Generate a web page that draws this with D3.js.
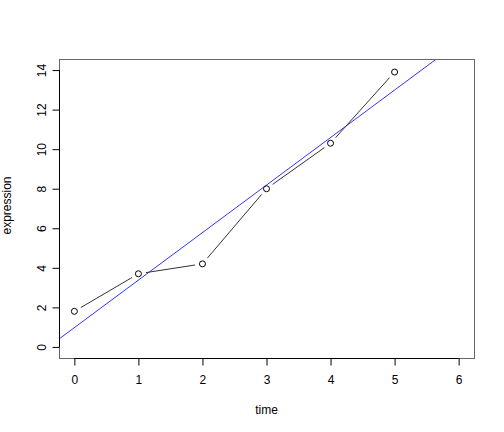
<!DOCTYPE html>
<html>
<head>
<meta charset="utf-8">
<script src="https://cdn.jsdelivr.net/npm/d3@7"></script>
<style>
  body { margin: 0; background: #fff; }
  text { font-family: "Liberation Sans", Arial, sans-serif; font-size: 12px; fill: #000; }
</style>
</head>
<body>
<div id="chart"></div>
<script>
var time = [0, 1, 2, 3, 4, 5];
var expression = [1.8, 3.7, 4.2, 8.0, 10.3, 13.9];
var xTicks = [0, 1, 2, 3, 4, 5, 6];
var yTicks = [0, 2, 4, 6, 8, 10, 12, 14];

var W = 504, H = 432;
var margin = {top: 59, right: 30, bottom: 74, left: 59};
var width = W - margin.left - margin.right;
var height = H - margin.top - margin.bottom;

// R style 4% padding on the limits
var x = d3.scaleLinear().domain([-0.24, 6.24]).range([0, width]);
var y = d3.scaleLinear().domain([-0.56, 14.56]).range([height, 0]);

// least squares fit, like abline(lm(expression ~ time))
var mx = d3.mean(time), my = d3.mean(expression);
var sxy = d3.sum(time, (t, i) => (t - mx) * (expression[i] - my));
var sxx = d3.sum(time, t => (t - mx) * (t - mx));
var slope = sxy / sxx;
var intercept = my - slope * mx;

var svg = d3.select("#chart").append("svg")
    .attr("width", W).attr("height", H)
    .append("g")
    .attr("transform", "translate(" + margin.left + "," + margin.top + ")");

svg.append("defs").append("clipPath").attr("id", "clip")
    .append("rect").attr("width", width).attr("height", height);

// fitted line
var fitX = x.domain();
svg.append("line")
    .attr("clip-path", "url(#clip)")
    .attr("x1", x(fitX[0])).attr("y1", y(intercept + slope * fitX[0]))
    .attr("x2", x(fitX[1])).attr("y2", y(intercept + slope * fitX[1]))
    .attr("stroke", "#3333ff").attr("stroke-width", 1);

// type = "b": segments with gaps around the points
var gap = 7.5;
var pts = time.map((t, i) => [x(t), y(expression[i])]);
for (var i = 0; i < pts.length - 1; i++) {
    var a = pts[i], b = pts[i + 1];
    var dx = b[0] - a[0], dy = b[1] - a[1];
    var len = Math.sqrt(dx * dx + dy * dy);
    var ux = dx / len, uy = dy / len;
    svg.append("line")
        .attr("x1", a[0] + ux * gap).attr("y1", a[1] + uy * gap)
        .attr("x2", b[0] - ux * gap).attr("y2", b[1] - uy * gap)
        .attr("stroke", "#333").attr("stroke-width", 1);
}

svg.selectAll(".pt")
    .data(pts)
    .enter()
    .append("circle")
        .attr("class", "pt")
        .attr("cx", d => d[0])
        .attr("cy", d => d[1])
        .attr("r", 3)
        .attr("fill", "none")
        .attr("stroke", "#000")
        .attr("stroke-width", 1);

// box
svg.append("rect")
    .attr("x", 0.5).attr("y", 0.5)
    .attr("width", width).attr("height", height)
    .attr("fill", "none").attr("stroke", "#666");

var xAxis = d3.axisBottom(x).tickValues(xTicks).tickSize(7).tickPadding(10).tickFormat(d3.format("d"));
var yAxis = d3.axisLeft(y).tickValues(yTicks).tickSize(7).tickPadding(10).tickFormat(d3.format("d"));

var gx = svg.append("g").attr("transform", "translate(0," + (height + 0.5) + ")").call(xAxis);
var gy = svg.append("g").attr("transform", "translate(0.5,0)").call(yAxis);

[gx, gy].forEach(g => {
    g.select(".domain").remove();
    g.selectAll("line").attr("stroke", "#000");
    g.selectAll("text").style("font-family", '"Liberation Sans", Arial, sans-serif').style("font-size", "12px");
});

// axis lines only span the ticks
gx.append("line").attr("x1", x(0)).attr("x2", x(6)).attr("stroke", "#000");
gy.append("line").attr("y1", y(0)).attr("y2", y(14)).attr("stroke", "#000");

gy.selectAll(".tick text")
    .attr("transform", function() { return "rotate(-90," + d3.select(this).attr("x") + ",0)"; })
    .attr("dy", "0.32em")
    .style("text-anchor", "middle");

svg.append("text")
    .attr("x", width / 2).attr("y", height + 56)
    .style("text-anchor", "middle")
    .text("time");

svg.append("text")
    .attr("transform", "translate(" + (-48) + "," + (height / 2 - 3) + ") rotate(-90)")
    .style("text-anchor", "middle")
    .text("expression");
</script>
</body>
</html>
